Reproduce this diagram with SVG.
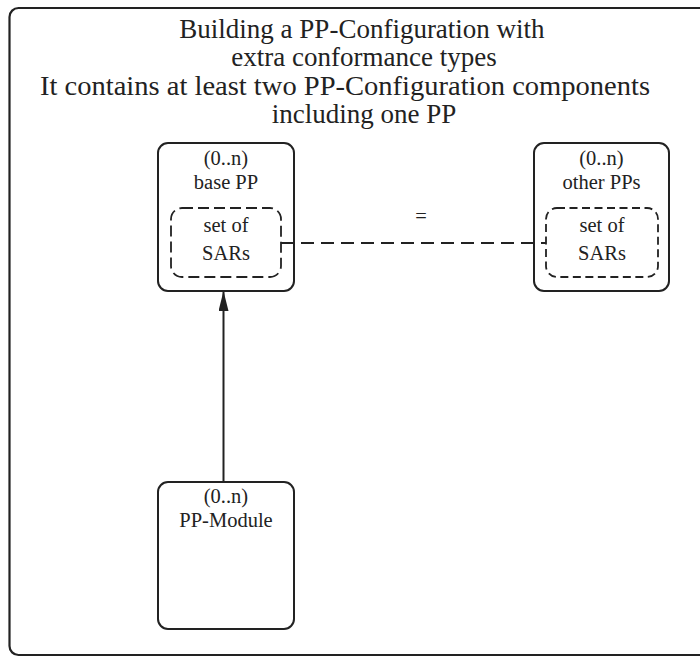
<svg xmlns="http://www.w3.org/2000/svg" width="700" height="657" viewBox="0 0 700 657">
<defs>
<style>
.frame{fill:none;stroke:#222;stroke-width:2.2}
.box{fill:none;stroke:#222;stroke-width:2}
.dash{fill:none;stroke:#222;stroke-width:1.8;stroke-dasharray:11 5}
.dash2{fill:none;stroke:#222;stroke-width:1.8;stroke-dasharray:8 4.5}
.conn{fill:none;stroke:#222;stroke-width:2}
.conndash{fill:none;stroke:#222;stroke-width:2;stroke-dasharray:13 7}
.title{font-family:"Liberation Serif","DejaVu Serif",serif;font-size:27px;fill:#222;text-anchor:middle}
.lbl{font-family:"Liberation Serif","DejaVu Serif",serif;font-size:20.5px;fill:#222;text-anchor:middle}
</style>
<marker id="arr" viewBox="0 0 20 10" refX="20" refY="5" markerWidth="20" markerHeight="10" markerUnits="userSpaceOnUse" orient="auto">
<path d="M0,0 L20,5 L0,10 Z" fill="#222"/>
</marker>
</defs>
<rect width="700" height="657" fill="#fff"/>
<g id="frame">
<rect class="frame" x="9.5" y="8" width="720" height="647" rx="9"/>
<text class="title" x="362" y="38">Building a PP-Configuration with</text>
<text class="title" x="364" y="66">extra conformance types</text>
<text class="title" x="345" y="95" textLength="610" lengthAdjust="spacingAndGlyphs">It contains at least two PP-Configuration components</text>
<text class="title" x="364" y="123">including one PP</text>
</g>
<g id="base-pp">
<rect class="box" x="158" y="143" width="136" height="148" rx="10"/>
<text class="lbl" x="226" y="165">(0..n)</text>
<text class="lbl" x="226" y="189">base PP</text>
<g id="base-pp-sars">
<rect class="dash" x="171" y="208" width="110" height="69" rx="11"/>
<text class="lbl" x="226" y="232">set of</text>
<text class="lbl" x="226" y="260">SARs</text>
</g>
</g>
<g id="other-pps">
<rect class="box" x="534" y="143" width="135" height="148" rx="10"/>
<text class="lbl" x="601.5" y="165">(0..n)</text>
<text class="lbl" x="601.5" y="189">other PPs</text>
<g id="other-pps-sars">
<rect class="dash2" x="546" y="208" width="112" height="69" rx="11"/>
<text class="lbl" x="602" y="232">set of</text>
<text class="lbl" x="602" y="260">SARs</text>
</g>
</g>
<g id="pp-module">
<rect class="box" x="158" y="482" width="136" height="147" rx="10"/>
<text class="lbl" x="226" y="503">(0..n)</text>
<text class="lbl" x="226" y="527">PP-Module</text>
</g>
<g id="connectors">
<line class="conndash" x1="281" y1="243" x2="546" y2="243"/>
<text class="lbl" x="421" y="223">=</text>
<line class="conn" x1="223.5" y1="482" x2="223.5" y2="291" marker-end="url(#arr)"/>
</g>
</svg>
